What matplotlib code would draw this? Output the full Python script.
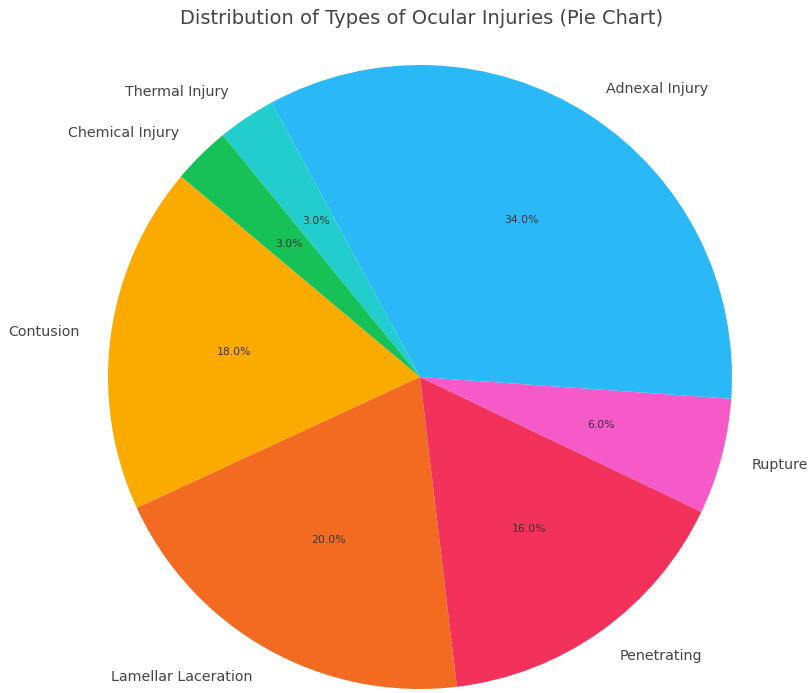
import matplotlib.pyplot as plt

# Ocular injury shares (%)
labels = ['Contusion', 'Lamellar Laceration', 'Penetrating', 'Rupture',
          'Adnexal Injury', 'Thermal Injury', 'Chemical Injury']
shares = [18, 20, 16, 6, 34, 3, 3]
colors = ['#fbab00', '#f26b21', '#f2325a', '#f659c8',
          '#2bb8f7', '#22cdcd', '#16c158']

W, H = 811, 693
cx, cy, r = 420, 377, 312  # pie centre and radius in pixels

fig = plt.figure(figsize=(W / 100, H / 100), dpi=100)
ax = fig.add_axes([0, 0, 1, 1])

wedges, texts, autotexts = ax.pie(
    shares, labels=labels, colors=colors, startangle=140,
    autopct='%1.1f%%', pctdistance=0.6, labeldistance=1.1,
    textprops={'fontsize': 10.3, 'color': '#444444'})

for t in autotexts:
    t.set_fontsize(7.8)
    t.set_color('#333333')

ax.set_xlim(-cx / r, (W - cx) / r)
ax.set_ylim(-(H - cy) / r, cy / r)
ax.axis('off')

# title is centred over the pie, not the figure
fig.text(422 / W, 1 - 19 / H, 'Distribution of Types of Ocular Injuries (Pie Chart)',
         ha='center', va='center', fontsize=14, color='#444444')

fig.savefig('out.png', dpi=100, facecolor='white')
